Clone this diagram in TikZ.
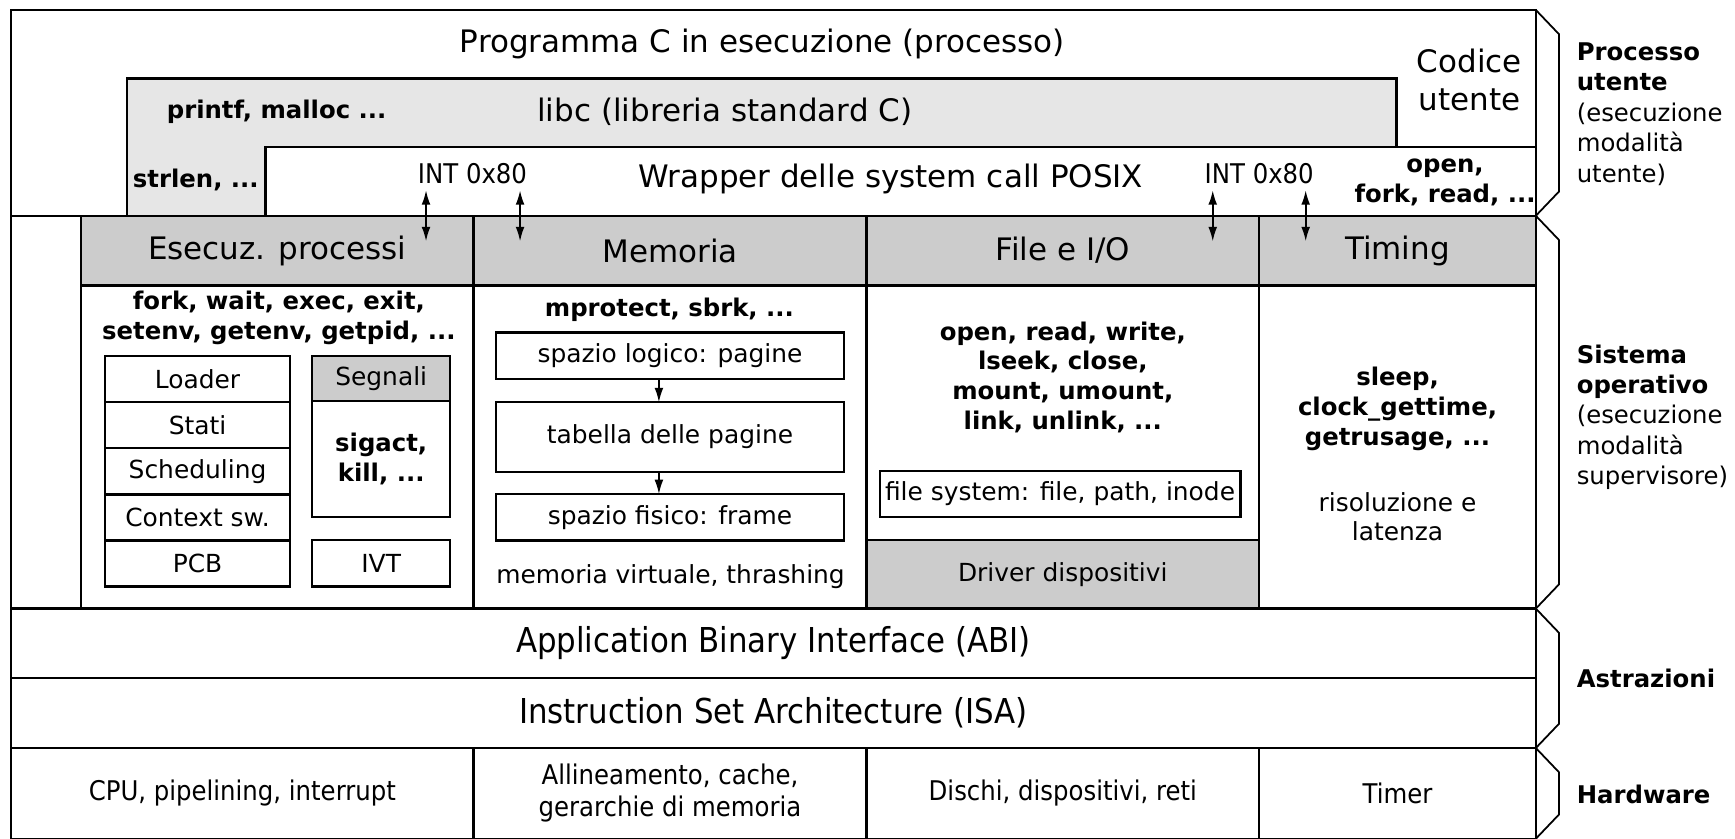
\documentclass[tikz,border=0pt]{standalone}
\usepackage{fontspec}
\setmainfont{DejaVu Sans}
\newfontfamily\narrowsans{DejaVu Sans}[FakeStretch=0.9]
\usetikzlibrary{positioning,arrows.meta}
\definecolor{libcgray}{HTML}{E6E6E6}
\definecolor{headgray}{HTML}{CCCCCC}

\begin{document}
\begin{tikzpicture}[x=1pt,y=-1pt,line width=2pt,
	every node/.style={inner sep=0pt,outer sep=0pt},
	cell/.style={draw,rectangle,align=center},
	bigtext/.style={font=\fontsize{28}{34}\selectfont,align=center},
	boxtext/.style={font=\fontsize{22.5}{27}\selectfont,align=center},
	boldtext/.style={font=\fontsize{22}{27}\selectfont\bfseries,align=center},
	inttext/.style={font=\narrowsans\fontsize{24.5}{29}\selectfont},
	head/.style={cell,fill=headgray,bigtext,minimum height=63},
	body/.style={cell,minimum height=292},
	stackbox/.style={cell,boxtext,minimum width=167,minimum height=41.6},
	sigbox/.style={cell,boxtext,minimum width=125},
	membox/.style={cell,boxtext,minimum width=314},
	layer/.style={cell,font=\narrowsans\fontsize{31}{36}\selectfont,minimum width=1378,minimum height=63},
	hwcell/.style={cell,font=\narrowsans\fontsize{24.5}{29}\selectfont,minimum height=82},
	callarrow/.style={{Latex[length=13pt,width=8pt]}-{Latex[length=13pt,width=8pt]},line width=1.5pt},
	maparrow/.style={-{Latex[length=13pt,width=8pt]},line width=1.5pt},
	bracket/.style={line width=1.6pt},
	side/.style={anchor=west,align=left,font=\fontsize{22}{27.5}\selectfont}]

\useasboundingbox (0,0) rectangle (1568,758);

% processo utente
\node[cell,minimum width=1378,minimum height=186] (user) at (699,102) {};
\node[bigtext] (title) at (689,40) {Programma C in esecuzione (processo)};
\draw[fill=libcgray] (115,71) -| (1262,133) -| (240,195) -- (115,195) -- cycle;
\draw (240,195) |- (1388,133);
\node[boldtext] (printf) at (250,101) {printf, malloc ...};
\node[bigtext] (libc) at (655,101) {libc (libreria standard C)};
\node[boldtext] (strlen) at (177,163) {strlen, ...};
\node[bigtext] (wrapper) at (805,162) {Wrapper delle system call POSIX};
\node[inttext] (int1) at (427,157) {INT 0x80};
\node[inttext] (int2) at (1138,157) {INT 0x80};
\node[bigtext] (codice) at (1328,72) {Codice\\utente};
\node[boldtext] (wopen) at (1306,165) {open,\\fork, read, ...};

% sistema operativo
\node[head,minimum width=355] (hproc) at (250.5,226.5) {Esecuz. processi};
\node[head,minimum width=355,right=0pt of hproc] (hmem) {Memoria};
\node[head,minimum width=355,right=0pt of hmem] (hfile) {File e I/O};
\node[head,minimum width=250,right=0pt of hfile] (htime) {Timing};
\node[body,minimum width=355,below=0pt of hproc] (bproc) {};
\node[body,minimum width=355,below=0pt of hmem] (bmem) {};
\node[body,minimum width=355,below=0pt of hfile] (bfile) {};
\node[body,minimum width=250,below=0pt of htime] (btime) {};

\node[boldtext] (calls1) at (252,287.5) {fork, wait, exec, exit,\\setenv, getenv, getpid, ...};
\node[stackbox] (loader) at (178.5,342.8) {Loader};
\node[stackbox,below=0pt of loader] (stati) {Stati};
\node[stackbox,below=0pt of stati] (sched) {Scheduling};
\node[stackbox,below=0pt of sched] (ctx) {Context sw.};
\node[stackbox,below=0pt of ctx] (pcb) {PCB};
\node[sigbox,fill=headgray,minimum height=40.5] (segnali) at (344.5,342) {Segnali};
\node[sigbox,boldtext,minimum height=105,below=0pt of segnali] (sigbody) {sigact,\\kill, ...};
\node[sigbox,minimum height=42] (ivt) at (344.5,509) {IVT};

\node[boldtext] (calls2) at (605,280) {mprotect, sbrk, ...};
\node[membox,minimum height=42] (logico) at (605.5,321.5) {spazio logico: pagine};
\node[membox,minimum height=63] (tabella) at (605.5,395) {tabella delle pagine};
\node[membox,minimum height=42] (fisico) at (605.5,467.5) {spazio fisico: frame};
\draw[maparrow] ([xshift=-10pt]logico.south) -- ([xshift=-10pt]tabella.north);
\draw[maparrow] ([xshift=-10pt]tabella.south) -- ([xshift=-10pt]fisico.north);
\node[boxtext] (virt) at (606,521) {memoria virtuale, thrashing};

\node[boldtext] (calls3) at (960.5,341) {open, read, write,\\lseek, close,\\mount, umount,\\link, unlink, ...};
\node[cell,boxtext,minimum width=326,minimum height=42] (fs) at (958,446.5) {file system: file, path, inode};
\node[cell,boxtext,fill=headgray,minimum width=355,minimum height=62,anchor=south] (driver) at (bfile.south) {Driver dispositivi};

\node[boldtext] (calls4) at (1263,369.5) {sleep,\\clock\_gettime,\\getrusage, ...};
\node[boxtext] (latenza) at (1263,467) {risoluzione e\\latenza};

% chiamate di sistema
\coordinate (up1) at (385,172); \coordinate (dn1) at (385,218);
\coordinate (up2) at (470,172); \coordinate (dn2) at (470,218);
\coordinate (up3) at (1096,172); \coordinate (dn3) at (1096,218);
\coordinate (up4) at (1180,172); \coordinate (dn4) at (1180,218);
\foreach \i in {1,...,4}
	\draw[callarrow] (up\i) -- (dn\i);

% astrazioni e hardware
\node[layer] (abi) at (699,581.5) {Application Binary Interface (ABI)};
\node[layer,below=0pt of abi] (isa) {Instruction Set Architecture (ISA)};
\node[hwcell,minimum width=418,anchor=north west] (hw1) at (isa.south west) {CPU, pipelining, interrupt};
\node[hwcell,minimum width=355,right=0pt of hw1] (hw2) {Allineamento, cache,\\gerarchie di memoria};
\node[hwcell,minimum width=355,right=0pt of hw2] (hw3) {Dischi, dispositivi, reti};
\node[hwcell,minimum width=250,right=0pt of hw3] (hw4) {Timer};
\draw (user.south west) -- (abi.north west);

% parentesi laterali
\draw[bracket] (user.north east) -- ++(21,22) -- ([shift={(21,-22)}]user.south east) -- (user.south east);
\draw[bracket] (htime.north east) -- ++(21,22) -- ([shift={(21,-22)}]btime.south east) -- (btime.south east);
\draw[bracket] (abi.north east) -- ++(21,22) -- ([shift={(21,-22)}]isa.south east) -- (isa.south east);
\draw[bracket] (hw4.north east) -- ++(21,22) -- ([shift={(21,-22)}]hw4.south east) -- (hw4.south east);

\node[side] (lproc) at (1425,103) {\textbf{Processo}\\\textbf{utente}\\(esecuzione\\modalità\\utente)};
\node[side] (los) at (1425,377) {\textbf{Sistema}\\\textbf{operativo}\\(esecuzione\\modalità\\supervisore)};
\node[side,font=\fontsize{22}{27}\selectfont\bfseries] (lastr) at (1425,613) {Astrazioni};
\node[side,font=\fontsize{22}{27}\selectfont\bfseries] (lhw) at (1425,718) {Hardware};
\end{tikzpicture}
\end{document}
